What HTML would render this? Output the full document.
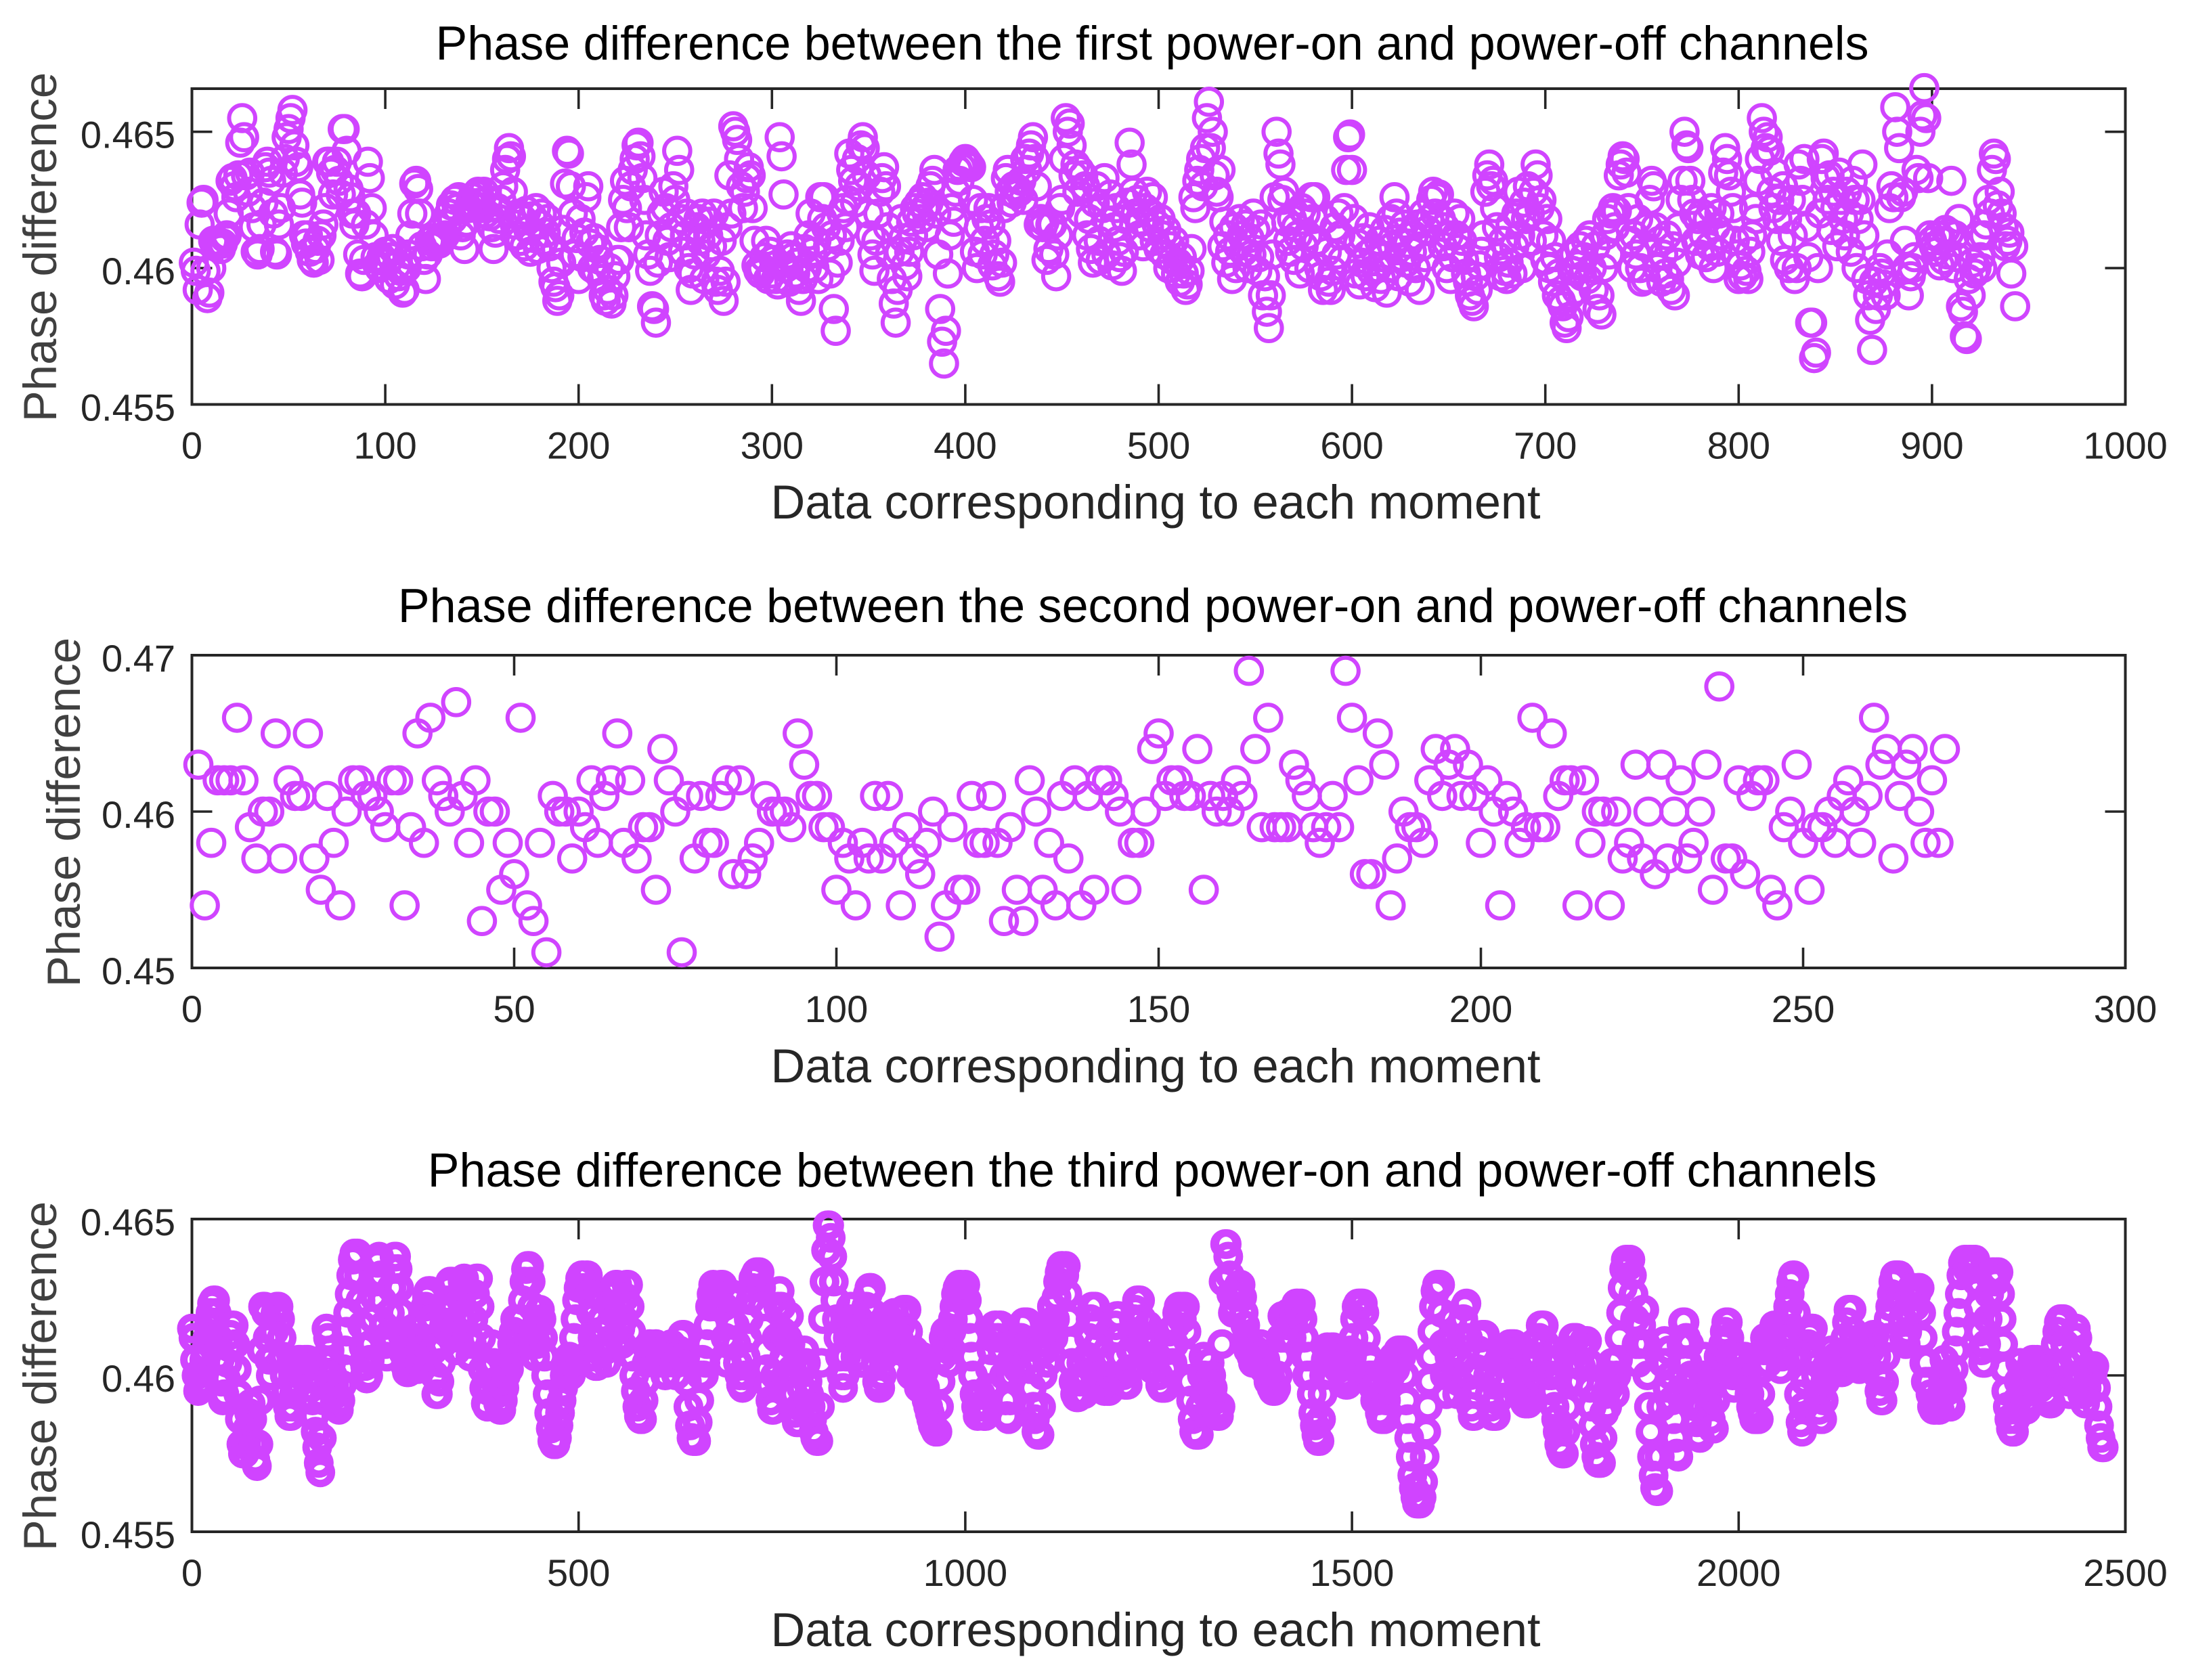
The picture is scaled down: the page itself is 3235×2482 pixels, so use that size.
<!DOCTYPE html>
<html lang="en">
<head>
<meta charset="utf-8">
<title>Phase difference between power-on and power-off channels</title>
<style>
html,body{margin:0;padding:0;background:#fff;}
svg{display:block;}
text{font-family:"Liberation Sans",Arial,sans-serif;}
.title{font-size:70.1px;fill:#000;text-anchor:middle;}
.xlab{font-size:70.3px;fill:#262626;text-anchor:middle;}
.ylab{font-size:69px;fill:#404040;text-anchor:middle;}
.tick{font-size:56px;fill:#262626;}
</style>
</head>
<body>
<svg id="chart" xmlns="http://www.w3.org/2000/svg" width="3235" height="2482" viewBox="0 0 3235 2482">
<rect x="0" y="0" width="3235" height="2482" fill="#fff"/>
<text class="title" x="1702" y="88">Phase difference between the first power-on and power-off channels</text>
<text class="xlab" x="1707" y="766">Data corresponding to each moment</text>
<text class="ylab" transform="translate(83 365) rotate(-90)">Phase difference</text>
<text class="title" x="1703" y="919">Phase difference between the second power-on and power-off channels</text>
<text class="xlab" x="1707" y="1599">Data corresponding to each moment</text>
<text class="ylab" transform="translate(118 1200) rotate(-90)">Phase difference</text>
<text class="title" x="1702" y="1753">Phase difference between the third power-on and power-off channels</text>
<text class="xlab" x="1707" y="2432">Data corresponding to each moment</text>
<text class="ylab" transform="translate(83 2033) rotate(-90)">Phase difference</text>
</svg>
<script>
// First channel: one value per moment (moments 1..943), in units of 0.0001
const firstValues = [
4602,4599,4592,4616,4624,4625,4599,4589,4591,4600,4610,4608,4610,4609,4607,4609,4611,4612,4620,4632,
4633,4630,4626,4634,4646,4655,4648,4634,4628,4635,4622,4615,4606,4605,4607,4616,4624,4637,4639,4635,
4632,4620,4606,4605,4616,4622,4635,4640,4648,4651,4655,4658,4645,4639,4637,4627,4624,4612,4609,4612,
4606,4603,4602,4607,4610,4603,4612,4616,4622,4639,4639,4635,4627,4636,4639,4632,4627,4651,4651,4643,
4629,4626,4620,4616,4620,4605,4598,4597,4603,4616,4639,4633,4622,4612,4604,4601,4600,4604,4603,4606,
4602,4596,4604,4607,4594,4601,4597,4599,4591,4592,4600,4605,4612,4620,4631,4632,4629,4620,4608,4603,
4596,4605,4610,4608,4611,4609,4610,4609,4610,4611,4612,4616,4620,4623,4618,4625,4622,4626,4612,4615,
4607,4617,4622,4624,4626,4623,4627,4628,4624,4622,4628,4620,4625,4619,4615,4607,4613,4622,4618,4625,
4630,4636,4640,4644,4641,4628,4616,4612,4620,4610,4618,4608,4621,4614,4606,4619,4611,4622,4607,4616,
4620,4610,4613,4618,4608,4600,4595,4593,4588,4590,4602,4614,4631,4643,4642,4630,4620,4605,4611,4596,
4618,4604,4613,4626,4630,4609,4600,4611,4599,4607,4603,4596,4590,4588,4592,4600,4587,4590,4597,4603,
4603,4615,4625,4632,4622,4615,4630,4636,4640,4645,4646,4641,4633,4625,4612,4605,4599,4586,4585,4580,
4602,4612,4620,4628,4622,4610,4604,4615,4630,4625,4643,4636,4618,4606,4612,4620,4600,4592,4598,4605,
4615,4618,4610,4620,4596,4605,4612,4617,4608,4620,4595,4592,4599,4610,4588,4595,4615,4634,4620,4652,
4650,4647,4640,4630,4622,4628,4633,4637,4634,4622,4610,4601,4599,4598,4600,4604,4610,4596,4606,4598,
4603,4596,4594,4648,4641,4627,4600,4605,4595,4608,4604,4598,4602,4592,4588,4596,4607,4600,4612,4620,
4606,4600,4610,4596,4626,4618,4626,4615,4608,4598,4612,4585,4577,4602,4610,4620,4622,4615,4625,4642,
4636,4632,4624,4640,4630,4645,4648,4644,4634,4620,4612,4605,4599,4610,4620,4628,4633,4637,4630,4615,
4605,4596,4587,4580,4592,4606,4618,4611,4601,4597,4606,4617,4612,4622,4620,4624,4618,4626,4622,4615,
4624,4630,4632,4636,4620,4605,4585,4573,4565,4577,4598,4612,4622,4617,4628,4636,4632,4637,4639,4640,
4639,4638,4637,4625,4606,4600,4615,4622,4605,4610,4618,4622,4616,4601,4605,4610,4597,4595,4602,4622,
4633,4636,4628,4624,4630,4627,4629,4628,4632,4625,4640,4636,4642,4645,4648,4640,4630,4616,4618,4615,
4617,4603,4607,4616,4616,4605,4597,4612,4622,4625,4640,4655,4650,4653,4645,4634,4638,4628,4636,4620,
4634,4630,4612,4618,4607,4602,4624,4630,4610,4603,4622,4633,4605,4617,4627,4601,4615,4622,4610,4604,
4599,4606,4618,4624,4646,4638,4628,4620,4625,4612,4617,4608,4622,4628,4615,4620,4626,4610,4616,4607,
4618,4612,4605,4614,4600,4608,4603,4610,4598,4602,4595,4604,4598,4592,4594,4599,4607,4626,4622,4632,
4636,4640,4630,4644,4655,4661,4644,4650,4634,4628,4626,4636,4608,4617,4602,4612,4606,4596,4615,4600,
4608,4618,4612,4606,4616,4600,4611,4605,4620,4614,4599,4604,4616,4590,4597,4584,4578,4590,4605,4626,
4650,4642,4638,4625,4628,4617,4610,4606,4618,4603,4615,4612,4598,4622,4608,4620,4612,4600,4626,4618,
4626,4610,4600,4597,4592,4618,4606,4595,4592,4599,4615,4605,4620,4612,4603,4622,4636,4648,4649,4636,
4618,4598,4609,4594,4602,4611,4597,4605,4615,4599,4607,4593,4600,4610,4596,4604,4614,4591,4600,4618,
4608,4626,4620,4597,4613,4604,4616,4602,4609,4595,4606,4612,4600,4616,4592,4608,4620,4604,4614,4618,
4625,4628,4620,4626,4627,4618,4608,4615,4600,4612,4596,4604,4620,4612,4607,4618,4610,4603,4598,4595,
4590,4588,4586,4597,4592,4601,4606,4612,4628,4634,4638,4630,4632,4622,4615,4604,4597,4610,4599,4596,
4602,4616,4598,4608,4620,4628,4612,4600,4624,4618,4630,4620,4610,4628,4638,4634,4622,4625,4612,4603,
4618,4600,4610,4595,4604,4590,4598,4588,4586,4580,4578,4582,4590,4599,4605,4592,4601,4608,4597,4604,
4610,4596,4612,4600,4592,4608,4585,4590,4583,4600,4612,4618,4605,4620,4622,4615,4621,4634,4638,4641,
4640,4635,4622,4610,4600,4612,4605,4618,4600,4595,4608,4596,4615,4625,4632,4630,4615,4600,4610,4595,
4605,4598,4612,4596,4592,4608,4590,4602,4615,4625,4632,4650,4645,4644,4632,4625,4620,4610,4618,4605,
4620,4612,4604,4618,4608,4622,4600,4615,4606,4620,4612,4635,4644,4640,4634,4628,4622,4610,4605,4596,
4601,4597,4610,4599,4596,4606,4612,4622,4618,4632,4640,4655,4650,4644,4648,4643,4628,4622,4635,4618,
4625,4610,4630,4603,4618,4600,4625,4612,4596,4600,4638,4632,4625,4640,4615,4604,4580,4580,4567,4569,
4600,4620,4640,4642,4633,4625,4634,4614,4628,4622,4608,4635,4625,4618,4612,4628,4620,4606,4632,4625,
4600,4618,4625,4638,4612,4596,4590,4581,4570,4595,4585,4590,4600,4598,4594,4590,4605,4622,4630,4626,
4659,4650,4644,4626,4628,4610,4600,4590,4597,4600,4604,4636,4633,4650,4656,4666,4655,4633,4612,4610,
4608,4606,4612,4601,4610,4603,4614,4605,4613,4632,4600,4612,4604,4618,4586,4584,4575,4574,4596,4590,
4602,4598,4600,4612,4604,4600,4612,4616,4625,4620,4636,4642,4640,4623,4628,4620,4615,4608,4610,4613,4598,4608,4586
];

// Second channel: one value per moment (moments 1..272), in units of 0.001
const secondValues = [
463,454,458,462,462,462,466,462,459,457,460,460,465,457,462,461,461,465,457,455,
461,458,454,460,462,462,461,461,460,459,462,462,454,459,465,458,466,462,461,460,
467,461,458,462,453,460,460,455,458,456,466,454,453,458,451,461,460,460,457,460,
459,462,458,461,462,465,458,462,457,459,459,455,464,462,460,451,461,457,461,458,
458,461,462,456,462,456,457,458,461,460,460,460,459,465,463,461,461,459,459,455,
458,457,454,458,457,461,457,461,458,454,459,457,456,458,460,452,454,459,455,455,
461,458,458,461,458,453,459,455,453,462,460,455,458,454,461,457,462,454,461,455,
462,462,461,460,455,458,458,460,464,465,461,462,462,461,461,464,455,461,460,461,
460,462,461,469,464,459,466,459,459,459,463,462,461,459,458,459,461,459,469,466,
462,456,456,465,463,454,457,460,459,459,458,462,464,461,463,464,461,463,461,458,
462,460,454,461,460,458,459,466,459,459,465,461,462,462,454,462,458,460,460,454,
460,457,458,463,457,460,456,463,457,460,462,457,458,460,463,455,468,457,457,462,
456,461,462,462,455,454,459,460,463,458,455,459,459,460,458,461,462,460,458,461,
466,463,464,457,461,463,464,460,458,462,458,464
];

// Third channel: moment at the start of each run; samples within a run are 2 moments apart
const thirdRunStarts = [0,94,144,152,168,176,192,216,228,244,254,266,292,310,318,344,368,404,436,452,472,514,538,566,590,638,654,688,718,736,754,762,784,812,824,844,880,892,926,966,984,1002,1030,1048,1058,1082,1098,1132,1156,1170,1188,1200,1212,1228,1260,1286,1304,1332,1338,1346,1358,1380,1406,1436,1460,1478,1518,1544,1568,1592,1616,1650,1660,1674,1688,1712,1730,1750,1776,1792,1806,1824,1846,1862,1880,1898,1906,1924,1930,1952,1970,1988,2010,2028,2052,2074,2084,2098,2110,2136,2148,2178,2188,2210,2218,2236,2262,2276,2308,2320,2338,2356,2388,2406,2422,2446,2462];
// Third channel: values for each run, in units of 0.0001
const thirdRunValues = [
[4615,4612,4605,4600,4595,4596,4598,4601,4605,4608,4612,4616,4620,4623,4624,4624,4620,4612,4605,4598,4592,4594,4599,4604,4609,4613,4616,4616,4610,4602,4594,4586,4578,4575,4575,4578,4583,4588,4591,4586,4578,4573,4571,4578,4592,4608,4622],
[4622,4620,4612,4605,4600,4606,4614,4620,4622,4622,4618,4612,4606,4600,4595,4590,4587,4587,4590,4594,4598,4602,4605,4605,4601],
[4603,4605,4605,4605],
[4600,4596,4592,4587,4582,4577,4572,4569],
[4580,4592,4604,4615],
[4612,4608,4604,4600,4597,4594,4591,4589],
[4592,4597,4602,4608,4614,4620,4626,4632,4637,4639,4639,4639],
[4632,4624,4616,4609,4603,4599],
[4600,4605,4610,4618,4625,4630,4636,4638],
[4632,4624,4616,4610,4606],
[4612,4620,4628,4634,4638,4638],
[4634,4628,4620,4613,4607,4603,4601,4601,4604,4610,4615,4612,4606],
[4602,4604,4608,4612,4617,4622,4625,4627,4627],
[4618,4608,4600,4594],
[4594,4598,4604,4610,4616,4620,4624,4628,4630,4630,4622,4615,4608],
[4612,4618,4624,4630,4631,4628,4620,4612,4606,4610,4618,4626],
[4631,4631,4622,4612,4602,4596,4591,4590,4595,4602,4610,4604,4598,4594,4591,4589,4589,4592],
[4596,4600,4604,4602,4606,4610,4614,4618,4612,4608,4612,4618,4624,4630,4634,4635],
[4635,4630,4622,4614,4606,4610,4616,4621],
[4618,4612,4606,4600,4594,4588,4583,4579,4578,4578],
[4580,4584,4588,4592,4596,4600,4604,4602,4606,4600,4604,4612,4618,4624,4628,4631,4632,4632,4628,4632,4632],
[4626,4620,4612,4606,4603,4603,4608,4614,4618,4614,4608,4604],
[4610,4616,4622,4626,4628,4629,4629,4622,4615,4610,4618,4625,4629,4629],
[4622,4614,4606,4600,4595,4590,4587,4586,4586,4592,4598,4604],
[4608,4610,4608,4606,4608,4610,4607,4604,4606,4608,4604,4600,4604,4607,4609,4610,4608,4604,4600,4604,4608,4612,4613,4613],
[4606,4598,4590,4584,4580,4579,4579,4579],
[4585,4592,4600,4605,4600,4604,4610,4616,4622,4626,4629,4628,4622,4624,4628,4629,4629],
[4622,4612,4604,4610,4618,4626,4624,4616,4610,4604,4600,4597,4596,4600,4606],
[4612,4618,4624,4628,4631,4632,4633,4633,4633],
[4628,4622,4615,4608,4602,4597,4592,4589,4589],
[4600,4612,4622,4627],
[4622,4614,4606,4600,4612,4619,4610,4602,4594,4588,4585],
[4585,4590,4596,4602,4608,4604,4598,4594,4590,4586,4582,4580,4579,4579],
[4590,4604,4618,4630,4640,4648],
[4648,4644,4638,4630,4624,4618,4612,4606,4600,4596],
[4600,4606,4612,4618,4622,4618,4612,4606,4612,4618,4610,4604,4610,4616,4622,4626,4628,4628],
[4620,4612,4604,4598,4596,4596],
[4600,4606,4612,4608,4614,4618,4612,4616,4620,4614,4608,4612,4616,4620,4621,4621,4621],
[4614,4606,4600,4604,4608,4603,4600,4596,4600,4606,4601,4596,4592,4590,4588,4586,4584,4583,4582,4582],
[4590,4598,4606,4612,4614,4610,4604,4608,4614],
[4618,4622,4626,4628,4629,4629,4624,4626,4629],
[4624,4618,4612,4606,4600,4594,4590,4587,4590,4594,4590,4587,4587,4590],
[4596,4602,4608,4612,4616,4616,4612,4616,4616],
[4608,4600,4592,4587,4586],
[4592,4600,4606,4610,4606,4602,4608,4612,4616,4617,4617,4617],
[4610,4602,4596,4590,4586,4582,4581,4581],
[4590,4600,4608,4614,4604,4610,4616,4622,4612,4618,4625,4630,4633,4635,4635,4632,4635],
[4626,4618,4610,4604,4598,4594,4593,4593,4598,4604,4600,4594],
[4600,4606,4612,4618,4622,4622,4622],
[4616,4610,4604,4600,4596,4595,4598,4595,4595],
[4600,4606,4612,4616,4619,4619],
[4612,4606,4600,4597,4597,4597],
[4602,4608,4614,4618,4621,4624,4624,4624],
[4618,4612,4606,4610,4616,4612,4606,4602,4606,4612,4606,4600,4597,4596,4596,4596],
[4602,4608,4614,4609,4604,4610,4616,4620,4622,4622,4618,4622,4622],
[4614,4606,4598,4592,4586,4582,4581,4581,4581],
[4590,4600,4606,4600,4594,4598,4604,4600,4596,4592,4589,4587,4587,4590],
[4610,4630,4642],
[4642,4638,4632,4626],
[4620,4622,4625,4628,4629,4629],
[4625,4620,4616,4612,4608,4610,4606,4604,4604,4608,4604],
[4606,4610,4606,4602,4605,4601,4598,4600,4596,4595,4595,4596,4600],
[4606,4612,4619,4619,4612,4616,4620,4616,4612,4617,4620,4623,4623,4621,4623],
[4618,4612,4606,4600,4606,4600,4594,4588,4584,4581,4579,4579],
[4586,4594,4600,4605,4609,4607,4604,4609,4609],
[4604,4606,4602,4608,4604,4600,4598,4597,4597,4603,4608,4606,4612,4618,4622,4623,4623,4623,4623,4620],
[4612,4606,4600,4604,4600,4596,4592,4596,4592,4588,4586,4586,4586],
[4592,4598,4604,4600,4604,4606,4602,4605,4608,4608,4606,4608],
[4600,4592,4586,4580,4574,4568,4564,4561,4559,4559,4559,4561],
[4566,4574,4582,4590,4598,4606,4614,4622,4627,4629,4629,4629],
[4620,4610,4600,4594,4600,4606,4612,4618,4608,4600,4594,4598,4604,4612,4618,4622,4623],
[4612,4600,4590,4587,4587],
[4594,4602,4608,4612,4613,4613,4613],
[4606,4600,4594,4590,4587,4587,4587],
[4592,4598,4604,4600,4604,4608,4606,4608,4610,4610,4610,4610],
[4604,4600,4596,4598,4594,4592,4591,4591,4591],
[4598,4604,4610,4606,4600,4606,4612,4616,4616,4616],
[4610,4604,4600,4605,4600,4595,4590,4586,4582,4578,4576,4575,4575],
[4582,4590,4598,4604,4608,4612,4612,4612],
[4604,4598,4603,4608,4611,4611,4611],
[4604,4596,4590,4584,4578,4574,4572,4572,4572],
[4580,4588,4594,4590,4596,4600,4604,4598,4594,4600,4605],
[4612,4620,4628,4634,4637,4637,4635,4637],
[4632,4626,4618,4610,4604,4610,4616,4621,4621],
[4610,4600,4590,4582,4574,4568,4564,4563,4563],
[4574,4590,4604,4611],
[4604,4596,4608,4600,4592,4586,4580,4575,4574],
[4595,4610,4617],
[4617,4612,4604,4610,4600,4592,4598,4590,4585,4581,4580],
[4590,4600,4606,4600,4594,4590,4586,4583,4583],
[4592,4600,4606,4600,4606,4610,4614,4617,4617],
[4612,4606,4600,4596,4600,4606,4600,4604,4606,4606,4606],
[4602,4598,4594,4590,4588,4586,4586,4586,4586],
[4594,4602,4608,4612,4608,4604,4608,4612,4614,4616,4616,4616],
[4608,4602,4606,4610,4614,4618,4622,4626,4630,4632,4632],
[4620,4606,4594,4585,4582],
[4590,4598,4606,4610,4613,4615,4615],
[4606,4600,4594,4589,4586,4586],
[4592,4598,4603,4600,4602,4608,4604,4602,4606,4604,4602,4601,4601],
[4606,4612,4617,4621,4621,4621],
[4614,4608,4604,4608,4602,4606,4610,4606,4604,4608,4612,4608,4610,4613,4613],
[4606,4600,4595,4592,4592],
[4598,4606,4612,4618,4622,4626,4630,4632,4632,4632,4632],
[4625,4618,4612,4610],
[4614,4620,4625,4628,4628,4622,4626,4628,4628],
[4620,4612,4604,4598,4604,4598,4594,4590,4589,4589,4592,4589,4589],
[4594,4600,4605,4600,4595,4591,4590],
[4596,4602,4608,4614,4620,4626,4632,4636,4637,4637,4634,4637,4637,4634,4637,4637],
[4630,4622,4614,4608,4604,4604],
[4610,4618,4626,4631,4633,4633,4630,4633,4633],
[4626,4618,4610,4602,4595,4590,4586,4583,4582],
[4582,4586,4592,4598,4604,4600,4594,4590,4589,4592,4598,4603,4605,4605,4601,4605],
[4600,4596,4600,4604,4598,4594,4592,4591,4591],
[4598,4604,4610,4614,4617,4618,4618,4618],
[4610,4604,4598,4594,4600,4606,4612,4615,4612,4606,4600,4594],
[4594,4591,4596,4600,4603,4603,4601,4603],
[4596,4590,4584,4580,4577,4577]
];

// Axis tick values and labels
const firstXTicks = [0,100,200,300,400,500,600,700,800,900,1000];
const firstYTicks = [0.455,0.46,0.465];
const firstYLabels = ['0.455','0.46','0.465'];
const secondXTicks = [0,50,100,150,200,250,300];
const secondYTicks = [0.45,0.46,0.47];
const secondYLabels = ['0.45','0.46','0.47'];
const thirdXTicks = [0,500,1000,1500,2000,2500];
const thirdYTicks = [0.455,0.46,0.465];
const thirdYLabels = ['0.455','0.46','0.465'];

const SVG_NS = 'http://www.w3.org/2000/svg';
const svg = document.getElementById('chart');
const LEFT = 283.5, RIGHT = 3139.5, TICK_LEN = 30;
const MARK_COLOR = '#d044ff', AXIS_COLOR = '#262626';

function makeAxes(cfg) {
  const xOf = function (v) { return LEFT + (v - cfg.xMin) / (cfg.xMax - cfg.xMin) * (RIGHT - LEFT); };
  const yOf = function (v) { return cfg.bottom - (v - cfg.yMin) / (cfg.yMax - cfg.yMin) * (cfg.bottom - cfg.top); };

  const box = document.createElementNS(SVG_NS, 'rect');
  
  
  box.setAttribute('x', LEFT);
  box.setAttribute('y', cfg.top);
  box.setAttribute('width', RIGHT - LEFT);
  box.setAttribute('height', cfg.bottom - cfg.top);
  box.setAttribute('fill', 'none');
  box.setAttribute('stroke', AXIS_COLOR);
  box.setAttribute('stroke-width', '4');
  svg.appendChild(box);

  function tickLine(x1, y1, x2, y2) {
    const l = document.createElementNS(SVG_NS, 'line');
    
    
    l.setAttribute('x1', x1);
    l.setAttribute('y1', y1);
    l.setAttribute('x2', x2);
    l.setAttribute('y2', y2);
    l.setAttribute('stroke', AXIS_COLOR);
    l.setAttribute('stroke-width', '3.6');
    svg.appendChild(l);
  }

  cfg.xTicks.forEach(function (t) {
    const x = xOf(t);
    tickLine(x, cfg.bottom, x, cfg.bottom - TICK_LEN);
    tickLine(x, cfg.top, x, cfg.top + TICK_LEN);
    const label = document.createElementNS(SVG_NS, 'text');
    
    
    label.setAttribute('class', 'tick');
    label.setAttribute('x', x);
    label.setAttribute('y', cfg.bottom + 80);
    label.setAttribute('text-anchor', 'middle');
    label.textContent = String(t);
    svg.appendChild(label);
  });

  cfg.yTicks.forEach(function (t, i) {
    const y = yOf(t);
    tickLine(LEFT, y, LEFT + TICK_LEN, y);
    tickLine(RIGHT, y, RIGHT - TICK_LEN, y);
    const label = document.createElementNS(SVG_NS, 'text');
    
    
    label.setAttribute('class', 'tick');
    label.setAttribute('x', 259);
    label.setAttribute('y', y + 24);
    label.setAttribute('text-anchor', 'end');
    label.textContent = cfg.yLabels[i];
    svg.appendChild(label);
  });

  const g = document.createElementNS(SVG_NS, 'g');
  
  
  g.setAttribute('fill', 'none');
  g.setAttribute('stroke', MARK_COLOR);
  g.setAttribute('stroke-width', cfg.ringWidth);
  svg.appendChild(g);

  return {
    point: function (x, v) {
      const c = document.createElementNS(SVG_NS, 'circle');
      
      
      c.setAttribute('cx', xOf(x).toFixed(2));
      c.setAttribute('cy', yOf(v).toFixed(2));
      c.setAttribute('r', cfg.ringRadius);
      g.appendChild(c);
    }
  };
}

const firstAxes = makeAxes({key: 'first-panel', top: 131, bottom: 597.5, xMin: 0, xMax: 1000, yMin: 0.455, yMax: 0.46658, ringRadius: 19.3, ringWidth: 6, xTicks: firstXTicks, yTicks: firstYTicks, yLabels: firstYLabels});
firstValues.forEach(function (v, i) { firstAxes.point(i + 1, v * 1e-4); });

const secondAxes = makeAxes({key: 'second-panel', top: 968, bottom: 1430, xMin: 0, xMax: 300, yMin: 0.45, yMax: 0.47, ringRadius: 19.3, ringWidth: 6, xTicks: secondXTicks, yTicks: secondYTicks, yLabels: secondYLabels});
secondValues.forEach(function (v, i) { secondAxes.point(i + 1, v * 1e-3); });

const thirdAxes = makeAxes({key: 'third-panel', top: 1801, bottom: 2263, xMin: 0, xMax: 2500, yMin: 0.455, yMax: 0.465, ringRadius: 16.5, ringWidth: 11, xTicks: thirdXTicks, yTicks: thirdYTicks, yLabels: thirdYLabels});
thirdRunValues.forEach(function (run, r) {
  run.forEach(function (v, i) { thirdAxes.point(thirdRunStarts[r] + i * 2, v * 1e-4); });
});
</script>
</body>
</html>
